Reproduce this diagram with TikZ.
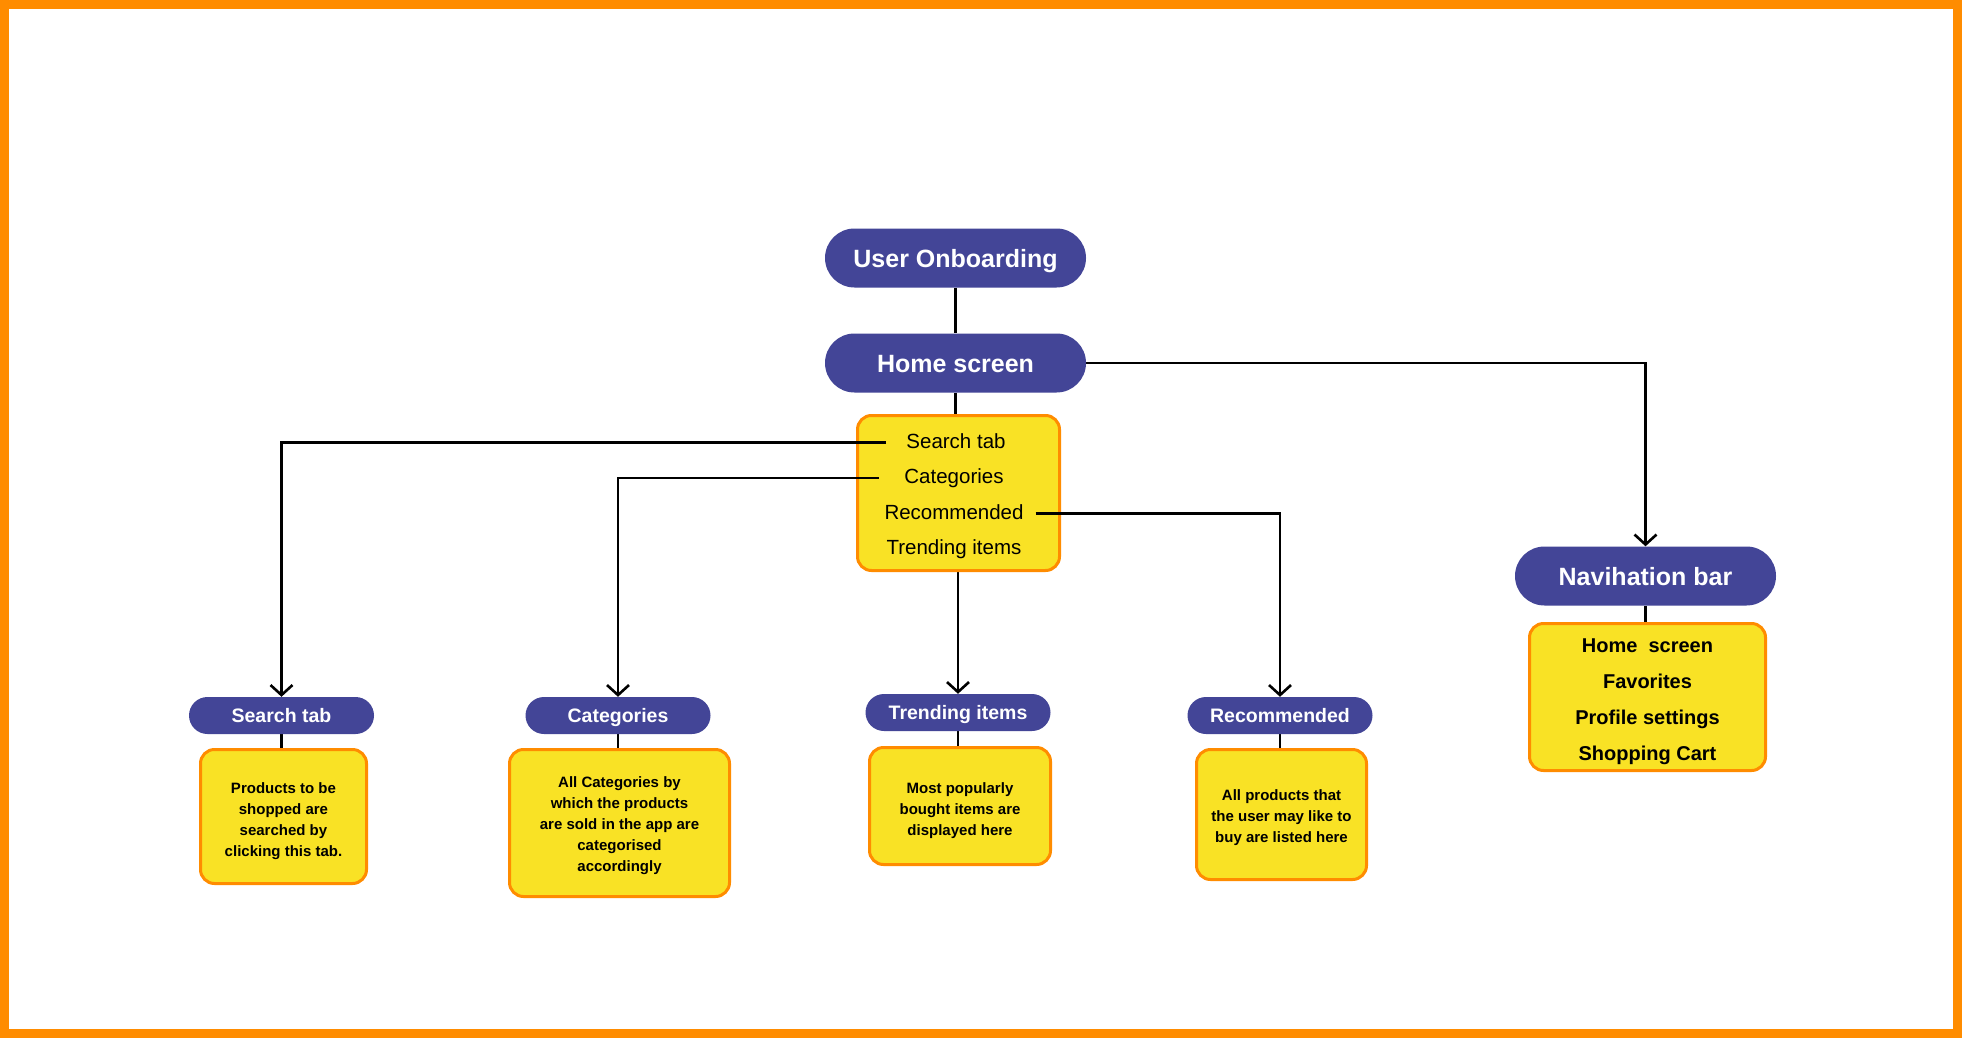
\documentclass[tikz,border=0pt]{standalone}
\usepackage{fontspec}
\setmainfont{Liberation Sans}
\usetikzlibrary{arrows.meta,calc}
\definecolor{frameorange}{HTML}{FF8C00}
\definecolor{pillblue}{HTML}{434597}
\definecolor{noteyellow}{HTML}{F9E225}
\definecolor{noteedge}{HTML}{FF8C00}
\pgfdeclarelayer{paper}
\pgfdeclarelayer{links}
\pgfsetlayers{paper,links,main}
\begin{document}
\begin{tikzpicture}[x=1pt,y=-1pt,
  bigpill/.style={fill=pillblue, text=white, inner sep=0pt,
    minimum width=261pt, minimum height=59pt, rounded corners=29.5pt,
    text height=23pt, text depth=5pt,
    font=\fontsize{25}{30}\selectfont\bfseries},
  smallpill/.style={fill=pillblue, text=white, inner sep=0pt,
    minimum width=185pt, minimum height=37pt, rounded corners=18.5pt,
    text height=18pt, text depth=4pt,
    font=\fontsize{19.5}{23}\selectfont\bfseries},
  notebox/.style={fill=noteyellow, draw=noteedge, line width=3pt,
    rounded corners=14pt, inner sep=0pt},
  descr/.style={align=center, inner sep=0pt, font=\fontsize{15}{21}\selectfont\bfseries},
  navlist/.style={align=center, inner sep=0pt, font=\fontsize{20}{36}\selectfont\bfseries},
  menuitem/.style={inner sep=0pt, anchor=base, text height=15pt, text depth=4pt,
    font=\fontsize{20.5}{24}\selectfont},
  link/.style={draw=black, line width=2.6pt},
  arrowlink/.style={link, -{Straight Barb[length=10pt,width=22pt]}}
]
% page and frame
\useasboundingbox (0,0) rectangle (1962,1038);
\begin{pgfonlayer}{paper}
  \fill[white] (0,0) rectangle (1962,1038);
  \draw[frameorange, line width=9pt] (4.5,4.5) rectangle (1957.5,1033.5);
\end{pgfonlayer}

% top of the flow
\node[bigpill] (onb) at (955.5,258) {User Onboarding};
\node[bigpill] (home) at (955.5,363) {Home screen};

% home screen contents
\node[notebox, minimum width=202pt, minimum height=155pt] (menu) at (958.5,493) {};
\node[menuitem] (mSearch) at (956,448) {Search tab};
\node[menuitem] (mCat) at (954,483.5) {Categories};
\node[menuitem] (mRec) at (954,519) {Recommended};
\node[menuitem] (mTrend) at (954,554.5) {Trending items};

% navigation bar branch
\node[bigpill] (nPill) at (1645.5,576) {Navihation bar};
\node[notebox, minimum width=236pt, minimum height=147pt] (nNote) at (1647.5,697) {};
\node[navlist] (nText) at (1647.5,702)
  {Home\ \ screen\\Favorites\\Profile settings\\Shopping Cart};

% section pills
\node[smallpill] (sPill) at (281.5,715.5) {Search tab};
\node[smallpill] (cPill) at (618,715.5) {Categories};
\node[smallpill] (tPill) at (958,712.5) {Trending items};
\node[smallpill] (rPill) at (1280,715.5) {Recommended};

% section descriptions
\node[notebox, minimum width=166pt, minimum height=134pt] (sNote) at (283.5,816.5) {};
\node[descr] (sText) at (283.5,821)
  {Products to be\\shopped are\\searched by\\clicking this tab.};
\node[notebox, minimum width=220pt, minimum height=147pt] (cNote) at (619.5,823) {};
\node[descr] (cText) at (619.5,826)
  {All Categories by\\which the products\\are sold in the app are\\categorised\\accordingly};
\node[notebox, minimum width=181pt, minimum height=117pt] (tNote) at (960,806) {};
\node[descr] (tText) at (960,810.5)
  {Most popularly\\bought items are\\displayed here};
\node[notebox, minimum width=170pt, minimum height=130pt] (rNote) at (1281.5,814.5) {};
\node[descr] (rText) at (1281.5,817.5)
  {All products that\\the user may like to\\buy are listed here};

% connectors
\begin{pgfonlayer}{links}
  \draw[link] (onb.south) -- (home.north);
  \draw[link] (home.south) -- (home.south |- menu.north);
  \draw[arrowlink] ([xshift=-5pt]home.east) -| (nPill.north);
  \draw[arrowlink] (tPill.north |- menu.south) -- (tPill.north);
  \draw[link] (nPill.south) -- (nPill.south |- nNote.north);
  \draw[link] (sPill.south) -- (sPill.south |- sNote.north);
  \draw[link] (cPill.south) -- (cPill.south |- cNote.north);
  \draw[link] (tPill.south) -- (tPill.south |- tNote.north);
  \draw[link] (rPill.south) -- (rPill.south |- rNote.north);
\end{pgfonlayer}
% menu entries lead out over the yellow box
\draw[arrowlink] ([xshift=-20pt]mSearch.west) -| (sPill.north);
\draw[arrowlink] ([xshift=-25pt]mCat.west) -| (cPill.north);
\draw[arrowlink] ([xshift=12pt]mRec.east) -| (rPill.north);
\end{tikzpicture}
\end{document}
